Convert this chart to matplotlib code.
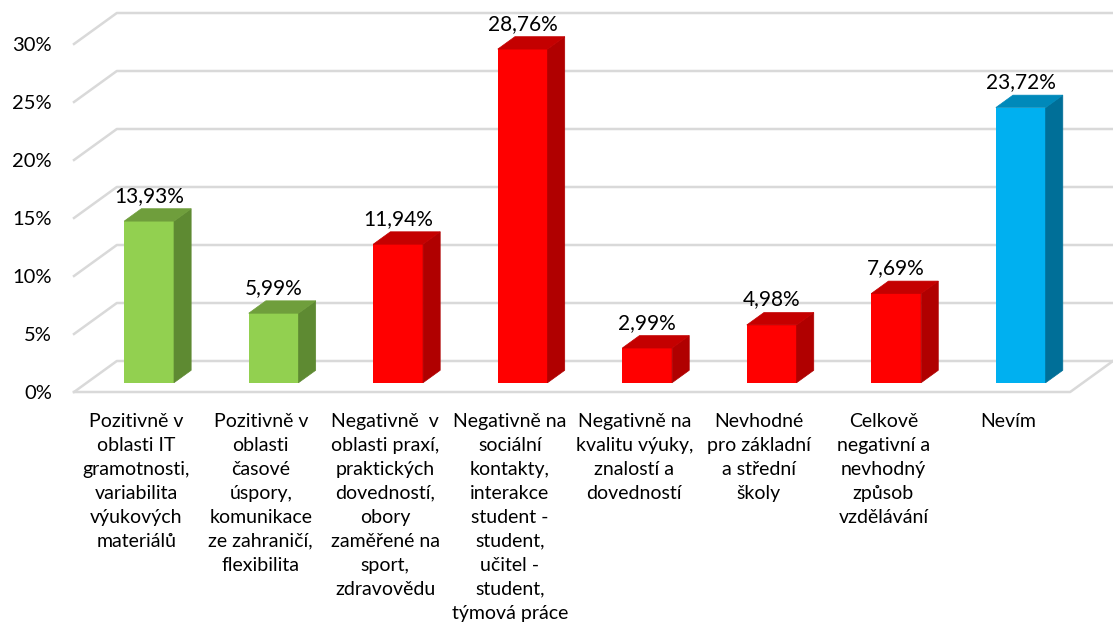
import matplotlib.pyplot as plt
from matplotlib.patches import Polygon

categories = [
    "Pozitivně v\noblasti IT\ngramotnosti,\nvariabilita\nvýukových\nmateriálů",
    "Pozitivně v\noblasti\nčasové\núspory,\nkomunikace\nze zahraničí,\nflexibilita",
    "Negativně  v\noblasti praxí,\npraktických\ndovedností,\nobory\nzaměřené na\nsport,\nzdravovědu",
    "Negativně na\nsociální\nkontakty,\ninterakce\nstudent -\nstudent,\nučitel -\nstudent,\ntýmová práce",
    "Negativně na\nkvalitu výuky,\nznalostí a\ndovedností",
    "Nevhodné\npro základní\na střední\nškoly",
    "Celkově\nnegativní a\nnevhodný\nzpůsob\nvzdělávání",
    "Nevím",
]
values = [13.93, 5.99, 11.94, 28.76, 2.99, 4.98, 7.69, 23.72]
groups = ["pos", "pos", "neg", "neg", "neg", "neg", "neg", "dunno"]
yticks = [0, 5, 10, 15, 20, 25, 30]

# front / side / top colours per group
COLORS = {
    "pos": ("#92D050", "#5E8A32", "#6F9E3C"),
    "neg": ("#FF0000", "#B00000", "#C40000"),
    "dunno": ("#00B0F0", "#006F98", "#0089BA"),
}

# fake 3D: depth vector in data units and bar depth position
DX, DY = 0.344, 2.672
F0, F1 = 0.3, 0.7
BAR_W = 0.4
GRID = "#D9D9D9"

plt.rcParams["font.family"] = ["Lato", "DejaVu Sans"]

fig = plt.figure(figsize=(11.13, 6.37), dpi=100)
ax = fig.add_axes([74 / 1113, (637 - 392) / 637, (1113 - 74) / 1113, (392 - 13) / 637])
n = len(values)
ax.set_xlim(0, n + DX)
ax.set_ylim(0, 30 + DY)
for s in ax.spines.values():
    s.set_visible(False)

# walls / floor grid
for t in yticks:
    ax.plot([0, DX, n + DX], [t, t + DY, t + DY], color=GRID, lw=1.8, zorder=1, clip_on=False)
ax.plot([0, n, n + DX], [0, 0, DY], color=GRID, lw=1.8, zorder=1, clip_on=False)

x_front = [i + 0.5 - BAR_W / 2 + F0 * DX for i in range(n)]
base = F0 * DY
dep_x = (F1 - F0) * DX
dep_y = (F1 - F0) * DY

for i, (x0, v, g) in enumerate(zip(x_front, values, groups)):
    front, side, top = COLORS[g]
    ax.bar(x0, v, width=BAR_W, bottom=base, align="edge", color=front, zorder=3)
    x1 = x0 + BAR_W
    ytop = base + v
    ax.add_patch(Polygon([(x1, base), (x1 + dep_x, base + dep_y), (x1 + dep_x, ytop + dep_y), (x1, ytop)],
                         closed=True, facecolor=side, edgecolor=side, lw=0.5, zorder=3))
    ax.add_patch(Polygon([(x0, ytop), (x1, ytop), (x1 + dep_x, ytop + dep_y), (x0 + dep_x, ytop + dep_y)],
                         closed=True, facecolor=top, edgecolor=top, lw=0.5, zorder=3))
    ax.text(x0 + BAR_W / 2, ytop + dep_y + 0.6, f"{v:.2f}%".replace(".", ","),
            ha="center", va="baseline", fontsize=15, color="#000000", zorder=4, clip_on=False)

ax.set_yticks(yticks)
ax.set_yticklabels([f"{t}%" for t in yticks], fontsize=14.5)
ax.set_xticks([i + 0.5 for i in range(n)])
ax.set_xticklabels(categories, fontsize=14, linespacing=1.5, va="top")
ax.tick_params(axis="y", length=0, pad=16)
ax.tick_params(axis="x", length=0, pad=15)

fig.savefig("out.png", dpi=100)
